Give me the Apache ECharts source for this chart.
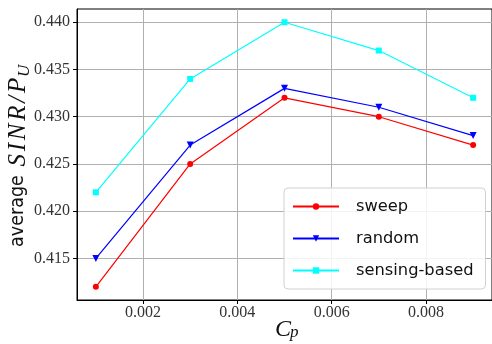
<!DOCTYPE html>
<html><head><meta charset="utf-8">
<script src="https://cdn.jsdelivr.net/npm/echarts@6/dist/echarts.min.js"></script>
<style>html,body{margin:0;padding:0;background:#fff}#c{width:492px;height:344px}</style>
</head><body><div id="c"></div>
<script>
const cpValues = [0.001, 0.003, 0.005, 0.007, 0.009];
const sweep = [0.412, 0.425, 0.432, 0.430, 0.427];
const random = [0.415, 0.427, 0.433, 0.431, 0.428];
const sensing = [0.422, 0.434, 0.440, 0.437, 0.432];
const seriesNames = ['sweep', 'random', 'sensing-based'];
const xTicks = [0.002, 0.004, 0.006, 0.008];
const yTicks = [0.415, 0.420, 0.425, 0.430, 0.435, 0.440];

const pairs = ys => cpValues.map((x, i) => [x, ys[i]]);
const serif = 'Liberation Serif';
const rot = Math.PI / 2;
const mathTokens = 'SINR/P'.split('').map(ch => '{m|' + ch + '}').join('');
const chart = echarts.init(document.getElementById('c'));
chart.setOption({
  animation: false,
  grid: {left: 77, right: -4, top: 9, bottom: 44, show: true, borderColor: '#000', borderWidth: 1, backgroundColor: 'transparent'},
  xAxis: {
    type: 'value', min: 0.0006, max: 0.0094,
    axisLine: {show: true, lineStyle: {color: '#000', width: 1}},
    axisTick: {show: true, inside: false, length: 4, lineStyle: {color: '#000'}, customValues: xTicks},
    axisLabel: {color: '#333', fontFamily: serif, fontSize: 16, margin: 5, customValues: xTicks,
      formatter: v => v.toFixed(3)},
    splitLine: {show: true, lineStyle: {color: '#b0b0b0', width: 1}}
  },
  yAxis: {
    type: 'value', min: 0.4106, max: 0.4414,
    axisLine: {show: true, lineStyle: {color: '#000', width: 1}},
    axisTick: {show: true, inside: false, length: 4, lineStyle: {color: '#000'}, customValues: yTicks},
    axisLabel: {color: '#333', fontFamily: serif, fontSize: 16, margin: 7, customValues: yTicks,
      formatter: v => v.toFixed(3)},
    splitLine: {show: true, lineStyle: {color: '#b0b0b0', width: 1}}
  },
  graphic: [
    {type: 'text', x: 18.3, y: 247, rotation: rot,
      style: {text: 'average', align: 'left', verticalAlign: 'middle',
        fontFamily: 'DejaVu Sans Condensed', fontSize: 19.5, fill: '#111'}},
    {type: 'text', x: 18, y: 168, rotation: rot,
      style: {text: mathTokens, align: 'left', verticalAlign: 'middle',
        rich: {m: {fontFamily: serif, fontStyle: 'italic', fontSize: 25, fill: '#111', padding: [0, 1.4, 0, 1.4]}}}},
    {type: 'text', x: 24.2, y: 77, rotation: rot,
      style: {text: 'U', align: 'left', verticalAlign: 'middle',
        fontFamily: serif, fontStyle: 'italic', fontSize: 17, fill: '#111'}},
    {type: 'text', x: 275, y: 329.5,
      style: {text: 'C', align: 'left', verticalAlign: 'middle',
        fontFamily: serif, fontStyle: 'italic', fontSize: 24, fill: '#111'}},
    {type: 'text', x: 290, y: 333,
      style: {text: 'p', align: 'left', verticalAlign: 'middle',
        fontFamily: serif, fontStyle: 'italic', fontSize: 17, fill: '#111'}}
  ],
  legend: {
    left: 284, top: 188, orient: 'vertical',
    backgroundColor: 'rgba(255,255,255,0.85)', borderColor: '#d0d0d0', borderWidth: 1, borderRadius: 4,
    padding: [8, 12, 8, 8], itemWidth: 46, itemHeight: 8, itemGap: 11,
    textStyle: {fontFamily: 'DejaVu Sans', fontSize: 16.3, color: '#111', padding: [0, 0, 0, 12], lineHeight: 21},
    data: seriesNames
  },
  series: [
    {name: seriesNames[0], type: 'line', data: pairs(sweep), color: '#ff0000', symbol: 'circle', symbolSize: 6,
      lineStyle: {width: 1.2}},
    {name: seriesNames[1], type: 'line', data: pairs(random), color: '#0000ff', symbol: 'triangle', symbolRotate: 180, symbolSize: 7,
      lineStyle: {width: 1.2}},
    {name: seriesNames[2], type: 'line', data: pairs(sensing), color: '#00ffff', symbol: 'rect', symbolSize: 6,
      lineStyle: {width: 1.2}}
  ]
});
</script></body></html>
